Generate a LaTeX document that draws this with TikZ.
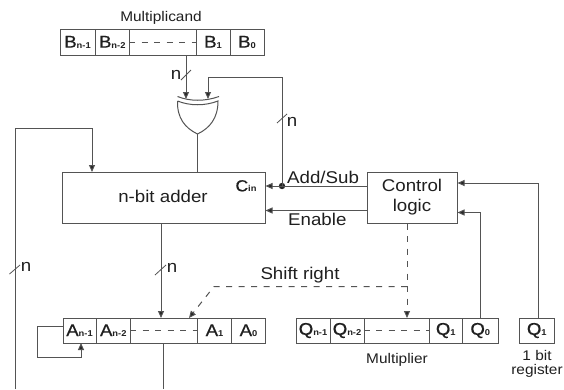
\documentclass[tikz,border=0pt]{standalone}
\usepackage{fontspec}
\setmainfont[FakeStretch=1.1]{Liberation Sans}
\newfontfamily\regfont[FakeStretch=1.1,FakeBold=0.6]{Liberation Sans}
\usetikzlibrary{arrows.meta,calc}
\definecolor{ln}{gray}{0.33}
\definecolor{tx}{gray}{0.12}
\newcommand\regcell[6]{\node[cellbox,minimum width={(#3-#2)*1pt},minimum height={(#5-#4)*1pt}] (#1) at ({(#2+#3)/2},{(#4+#5)/2}) {#6};}
\newcommand\bitname[2]{{\regfont\fontsize{17}{17}\selectfont #1}\raisebox{-0.5pt}{\fontsize{8.5}{9}\selectfont\bfseries #2}}
\tikzset{
  x=1pt,y=-1pt,
  cellbox/.style={draw=ln,line width=1pt,inner sep=0pt,text=tx,font=\fontsize{17}{19}\selectfont},
  wire/.style={draw=ln,line width=1pt},
  arrowwire/.style={wire,-{Triangle[length=7pt,width=6pt,fill=black!85]}},
  dashwire/.style={wire,dash pattern=on 6pt off 6.5pt},
  lbl/.style={inner sep=0pt,text=tx,font=\fontsize{17}{19}\selectfont},
  smalllbl/.style={inner sep=0pt,text=tx,font=\fontsize{14}{16}\selectfont},
  slashmark/.style={draw=ln,line width=0.8pt},
}
\begin{document}
\begin{tikzpicture}
\useasboundingbox[fill=white] (0,0) rectangle (564,389);
% multiplicand register
\regcell{bA}{60}{95}{29}{55}{\bitname{B}{n-1}}
\regcell{bB}{95}{129.5}{29}{55}{\bitname{B}{n-2}}
\regcell{bC}{129.5}{196}{29}{55}{}
\regcell{bD}{196}{230}{29}{55}{\bitname{B}{1}}
\regcell{bE}{230}{264}{29}{55}{\bitname{B}{0}}
\draw[dashwire] (bC.west) -- (bC.east);
\node[smalllbl] (mcand) at (161,18) {Multiplicand};
% A register
\regcell{aA}{63}{96}{318}{343}{\bitname{A}{n-1}}
\regcell{aB}{96}{130.5}{318}{343}{\bitname{A}{n-2}}
\regcell{aC}{130.5}{197.5}{318}{343}{}
\regcell{aD}{197.5}{231.5}{318}{343}{\bitname{A}{1}}
\regcell{aE}{231.5}{265.5}{318}{343}{\bitname{A}{0}}
\draw[dashwire] (aC.west) -- (aC.east);
% Q register
\regcell{qA}{296}{330}{318}{343}{\bitname{Q}{n-1}}
\regcell{qB}{330}{364}{318}{343}{\bitname{Q}{n-2}}
\regcell{qC}{364}{429}{318}{343}{}
\regcell{qD}{429}{462.5}{318}{343}{\bitname{Q}{1}}
\regcell{qE}{462.5}{498}{318}{343}{\bitname{Q}{0}}
\draw[dashwire] (qC.west) -- (qC.east);
\regcell{qbit}{519.5}{554}{318}{343}{\bitname{Q}{1}}
\node[smalllbl] (mplier) at (397,360) {Multiplier};
\node[smalllbl] (onebit) at (537,355) {1 bit};
\node[smalllbl] (regtxt) at (537,371) {register};
% adder and control
\regcell{adder}{62}{265}{172}{223}{}
\node[lbl] (addtxt) at (163,196) {n-bit adder};
\node[inner sep=0pt,text=tx] (cin) at (246,186) {{\regfont\fontsize{16}{16}\selectfont C}\raisebox{-0.5pt}{\fontsize{8.5}{9}\selectfont\bfseries in}};
\node[cellbox,minimum width=90pt,minimum height=51pt,align=center,font=\fontsize{17}{20}\selectfont] (ctrl) at (412,197.5) {Control\\logic};
% XOR gate
\coordinate (xorL) at (177.5,101);
\coordinate (xorR) at (218,101);
\coordinate (xorB) at (197.5,134);
\coordinate (xorIn1) at (186,99);
\coordinate (xorIn2) at (208,99);
\draw[wire] (xorL) .. controls (190,106) and (205,106) .. (xorR)
  .. controls (218,118) and (210,128) .. (xorB)
  .. controls (185,128) and (177,118) .. (xorL);
\draw[wire] (177.5,96.5) .. controls (190,101.5) and (205,101.5) .. (219,96.5);
% wires
\coordinate (bout) at (186,55);
\draw[arrowwire] (bout) -- (xorIn1);
\draw[slashmark] (181,80) -- (191,70);
\node[lbl] (nA) at (176,75) {n};
\coordinate (dot) at (282,186);
\fill[black!85] (dot) circle (3.2pt);
\draw[arrowwire] (dot) |- (208,77.5) -- (xorIn2);
\draw[slashmark] (277,123) -- (287,114);
\node[lbl] (nB) at (292,122) {n};
\draw[wire] (xorB) -- (xorB |- adder.north);
\draw[arrowwire] (ctrl.west |- dot) -- (adder.east |- dot);
\draw[arrowwire] (ctrl.west |- 0,210.5) -- (adder.east |- 0,210.5);
\node[lbl,anchor=west] (addsub) at (287,177) {Add/Sub};
\node[lbl,anchor=west] (enable) at (288,219.5) {Enable};
% adder output
\draw[arrowwire] (161,223) -- (161,318);
\draw[slashmark] (155,275) -- (166,265);
\node[lbl] (nC) at (172,268) {n};
% A feedback
\draw[arrowwire] (aA.west |- 0,326) -- (37,326) -- (37,357.5) -- (81,357.5) -- (81,343);
% carry-around line
\coordinate (bottomA) at (163,389);
\draw[wire] (aC.south -| bottomA) -- (bottomA);
\coordinate (bottomL) at (15,389);
\draw[arrowwire] (bottomL) -- (15,128.5) -- (92,128.5) -- (92,172);
\draw[slashmark] (9.5,274) -- (20,265);
\node[lbl] (nD) at (26,267) {n};
% Q feedback
\draw[arrowwire] (qE.north -| 480,0) -- (480,212.5) -- (ctrl.east |- 0,212.5);
\draw[arrowwire] (qbit.north -| 538,0) -- (538,183) -- (ctrl.east |- 0,183);
% control dashed
\draw[dashwire,-{Triangle[length=7pt,width=6pt,fill=black!85]}] (ctrl.south -| 407,0) -- (407,318);
\draw[dashwire,-{Triangle[length=7pt,width=6pt,fill=black!85]}] (407,286.5) -- (214,286.5) -- (189,318);
\node[lbl] (shift) at (300,275) {Shift right};
\end{tikzpicture}
\end{document}
